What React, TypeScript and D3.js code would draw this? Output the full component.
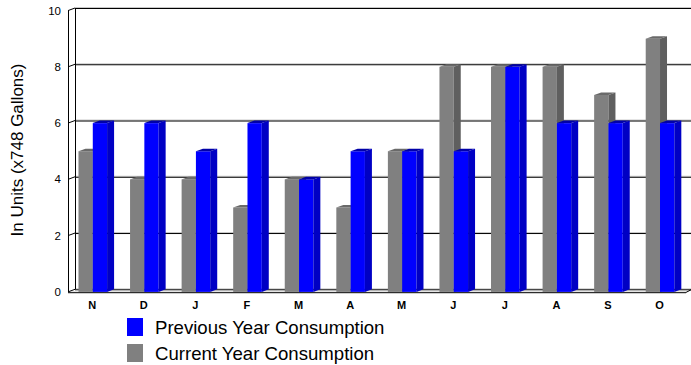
import React from "react";
import * as d3 from "d3";

const months = ["N", "D", "J", "F", "M", "A", "M", "J", "J", "A", "S", "O"];
const currentYear = [5, 4, 4, 3, 4, 3, 5, 8, 8, 8, 7, 9];
const previousYear = [6, 6, 5, 6, 4, 5, 5, 5, 8, 6, 6, 6];
const yTicks = [0, 2, 4, 6, 8, 10];
const seriesNames = ["Previous Year Consumption", "Current Year Consumption"];

const W = 691;
const H = 365;
const DX = 7;
const DY = 2.6;
const FONT = "'Liberation Sans', Arial, sans-serif";

export default function App() {
  const y = d3.scaleLinear().domain([0, 10]).range([289.3, 8]);
  const x = d3
    .scaleBand<number>()
    .domain(months.map((_, i) => i))
    .range([67, 685.8])
    .padding(0);
  const bw = 14.3;
  const backLeft = 75;
  const frontLeft = backLeft - DX;
  const right = 691;

  const bar = (cx: number, v: number, front: string, side: string, top: string, key: string) => {
    const x0 = cx;
    const x1 = cx + bw;
    const yb = y(0) + DY;
    const yt = y(v) + DY;
    return (
      <g key={key}>
        <rect x={x0} y={yt} width={bw} height={yb - yt} fill={front} />
        <polygon
          points={`${x1},${yt} ${x1 + DX},${yt - DY} ${x1 + DX},${yb - DY} ${x1},${yb}`}
          fill={side}
        />
        <polygon
          points={`${x0},${yt} ${x0 + DX},${yt - DY} ${x1 + DX},${yt - DY} ${x1},${yt}`}
          fill={top}
        />
      </g>
    );
  };

  return (
    <svg width={W} height={H} style={{ position: "absolute", left: 0, top: 0, background: "#fff" }}>
      <rect width={W} height={H} fill="#fff" />
      {yTicks.map((t) => (
        <g key={"g" + t}>
          <line x1={backLeft} x2={right} y1={y(t) - 0.5} y2={y(t) - 0.5} stroke="#c8c8c8" strokeWidth={1} />
          <line x1={backLeft} x2={right} y1={y(t) + 0.5} y2={y(t) + 0.5} stroke="#000" strokeWidth={1} />
          <line x1={frontLeft} y1={y(t) + DY} x2={backLeft} y2={y(t)} stroke="#000" strokeWidth={1} />
          <text x={61} y={y(t) + DY + 4} textAnchor="end" fontFamily={FONT} fontSize={11.5} fill="#000">
            {t}
          </text>
        </g>
      ))}
      <line x1={backLeft + 0.5} x2={backLeft + 0.5} y1={y(10)} y2={y(0)} stroke="#000" />
      <line x1={frontLeft + 0.5} x2={frontLeft + 0.5} y1={y(10) + DY} y2={y(0) + DY} stroke="#000" />
      <line x1={frontLeft} x2={right - 5} y1={y(0) + DY + 0.5} y2={y(0) + DY + 0.5} stroke="#000" />
      <line x1={right - 5} y1={y(0) + DY + 0.5} x2={right} y2={y(0) + 0.5} stroke="#000" />
      <line x1={frontLeft} x2={right - 5} y1={y(0) + DY + 1.5} y2={y(0) + DY + 1.5} stroke="#c8c8c8" />
      {months.map((m, i) => {
        const c = (x(i) as number) + x.bandwidth() / 2;
        return (
          <g key={"b" + i}>
            {bar(c - bw, currentYear[i], "#808080", "#5f5f5f", "#6a6a6a", "c" + i)}
            {bar(c, previousYear[i], "#0000ff", "#0000c4", "#0000a8", "p" + i)}
          </g>
        );
      })}
      {months.map((m, i) => {
        const c = (x(i) as number) + x.bandwidth() / 2;
        return (
          <text
            key={"l" + i}
            x={c - 0.5}
            y={308.5}
            textAnchor="middle"
            fontFamily={FONT}
            fontWeight="bold"
            fontSize={11}
            fill="#000"
          >
            {m}
          </text>
        );
      })}
      <text
        transform={`translate(23,150) rotate(-90)`}
        textAnchor="middle"
        fontFamily={FONT}
        fontSize={17}
        fill="#000"
      >
        In Units (x748 Gallons)
      </text>
      {seriesNames.map((s, i) => (
        <g key={"lg" + i}>
          <rect x={127} y={318 + i * 26} width={16} height={18} fill={i === 0 ? "#0000ff" : "#808080"} />
          <text x={155} y={334 + i * 25.5} fontFamily={FONT} fontSize={18.6} fill="#000">
            {s}
          </text>
        </g>
      ))}
    </svg>
  );
}
